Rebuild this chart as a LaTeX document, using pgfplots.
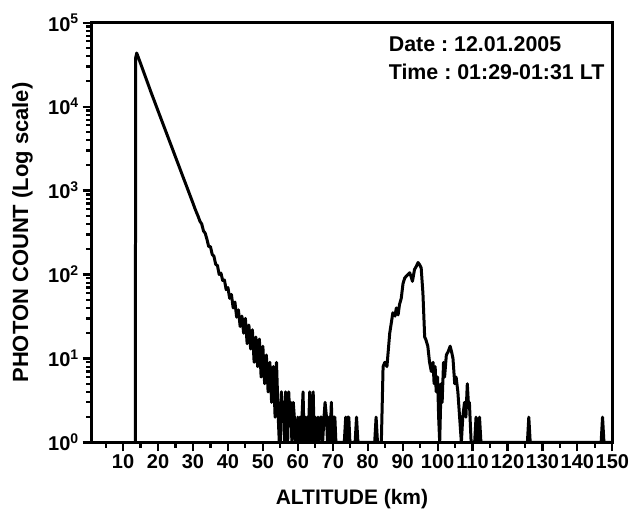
\documentclass[border=0pt]{standalone}
\usepackage{fontspec}
\setmainfont{Liberation Sans}
\usepackage{pgfplots}
\pgfplotsset{compat=1.18}
\pgfplotstableread{
x y
13.5 1
13.6 38000
13.9 43500
15 32700
16 25100
17 19300
18 14800
19 11500
20 8910
21 6920
22 5370
23 4170
24 3240
25 2510
26 1950
27 1510
28 1175
29 912
30 708
30.5 620
31 550
31.5 490
32 430
32.5 400
33 331
33.5 310
34 263
34.5 215
35 215
35.5 174
36 165
36.5 132
37 128
37.5 100
38 104
38.5 85
39 86
39.5 66
40 70
40.5 52
41 58
41.5 40
42 47
42.5 31
43 38
43.5 24
44 32
44.5 20
45 30
45.5 15
46 25
46.5 13
47 22
47.5 9
48 18
48.5 8
49 17
49.5 6
50 14
50.5 5
51 11
51.5 4
52 9
52.5 3
53 8
53.5 2
53.9 9
54.4 2
54.7 1
55.0 1
55.3 4
55.6 2
55.9 3
56.2 1
56.5 4
56.8 2
57.1 1
57.4 4
57.7 2
58.0 3
58.3 1
58.7 3
59.0 2
59.3 1
59.7 1
60.0 2
60.3 1
60.6 2
60.9 1
61.2 2
61.5 4
61.8 1
62.1 2
62.4 1
62.7 2
63.0 1
63.4 4
63.7 1
64.0 2
64.4 4
64.7 1
65.0 2
65.3 1
65.8 2
66.1 1
66.5 2
66.8 2
67.1 1
67.5 2
67.8 3
68.2 2
68.5 1
68.9 2
69.2 1
69.6 3
69.9 1
70.3 2
70.6 2
70.9 1
73.3 1
73.7 2
74.0 1
74.3 2
74.6 2
74.9 1
76.4 1
76.8 2
77.2 1
82.0 1
82.4 2
82.8 1
83.9 1
84.4 8
84.9 9
85.5 8
86.3 20
87.2 35
87.8 32
88.2 40
88.7 33
89.1 44
89.6 52
90.1 78
90.6 91
91.3 98
92.0 105
92.4 95
92.8 83
93.4 115
93.9 125
94.4 139
94.9 130
95.3 120
95.8 60
96.3 18
96.6 17
97.2 14
97.7 9
98.2 7
98.7 9
99.0 5
99.3 8
99.6 4
100.0 6
100.3 2
100.6 1
101.0 5
101.3 3
101.7 9
102.0 6
102.5 11
103.0 12
103.6 14
104.0 12
104.4 10
104.9 5
105.3 6
105.8 4
106.3 2
106.8 1
107.2 2
107.7 3
108.1 2
108.5 5
108.8 3
109.1 3
109.6 1
110.6 1
111.0 2
111.5 1
112.0 2
112.4 1
125.7 1
126.1 2
126.5 1
146.8 1
147.2 2
147.6 1
150 1
}\profile
\begin{document}
\frenchspacing
\begin{tikzpicture}
\begin{axis}[
  scale only axis, width=260.5pt, height=210pt,
  xmin=1, xmax=150, ymode=log, ymin=1, ymax=1e5,
  axis line style={line width=1.5pt},
  xtick={10,20,...,150}, minor xtick={5,15,...,145},
  ytick={1,10,100,1000,10000,100000},
  minor ytick={2,3,4,5,6,7,8,9,20,30,40,50,60,70,80,90,200,300,400,500,600,700,800,900,2000,3000,4000,5000,6000,7000,8000,9000,20000,30000,40000,50000,60000,70000,80000,90000},
  yticklabels={10\textsuperscript{0},10\textsuperscript{1},10\textsuperscript{2},10\textsuperscript{3},10\textsuperscript{4},10\textsuperscript{5}},
  tick align=outside, tick pos=left,
  major tick length=4.5pt, minor tick length=2.6pt,
  every tick/.style={line width=1.1pt, black},
  ticklabel style={font=\fontsize{10}{11}\selectfont\bfseries},
  xticklabel style={inner sep=1.5pt},
  yticklabel style={inner sep=1.5pt},
  /pgf/number format/assume math mode=true,
  xlabel={ALTITUDE (km)}, ylabel={PHOTON COUNT (Log scale)},
  x label style={font=\fontsize{10.5}{12}\selectfont\bfseries, at={(axis description cs:0.5,-0.1357)}, anchor=center},
  y label style={font=\fontsize{11}{12}\selectfont\bfseries, at={(axis description cs:-0.1327,0.5)}, anchor=center},
  clip=false,
]
\addplot[black, line width=1.5pt, line join=round] table[x=x,y=y] {\profile};
\node[anchor=base west, inner sep=0pt, font=\fontsize{10.7}{12}\selectfont\bfseries] at (rel axis cs:0.570,0.931) {Date : 12.01.2005};
\node[anchor=base west, inner sep=0pt, font=\fontsize{10.7}{12}\selectfont\bfseries] at (rel axis cs:0.570,0.8636) {Time : 01:29-01:31 LT};
\path (rel axis cs:-0.176,-0.1674) rectangle (rel axis cs:1.0369,1.054);
\end{axis}
\end{tikzpicture}
\end{document}
